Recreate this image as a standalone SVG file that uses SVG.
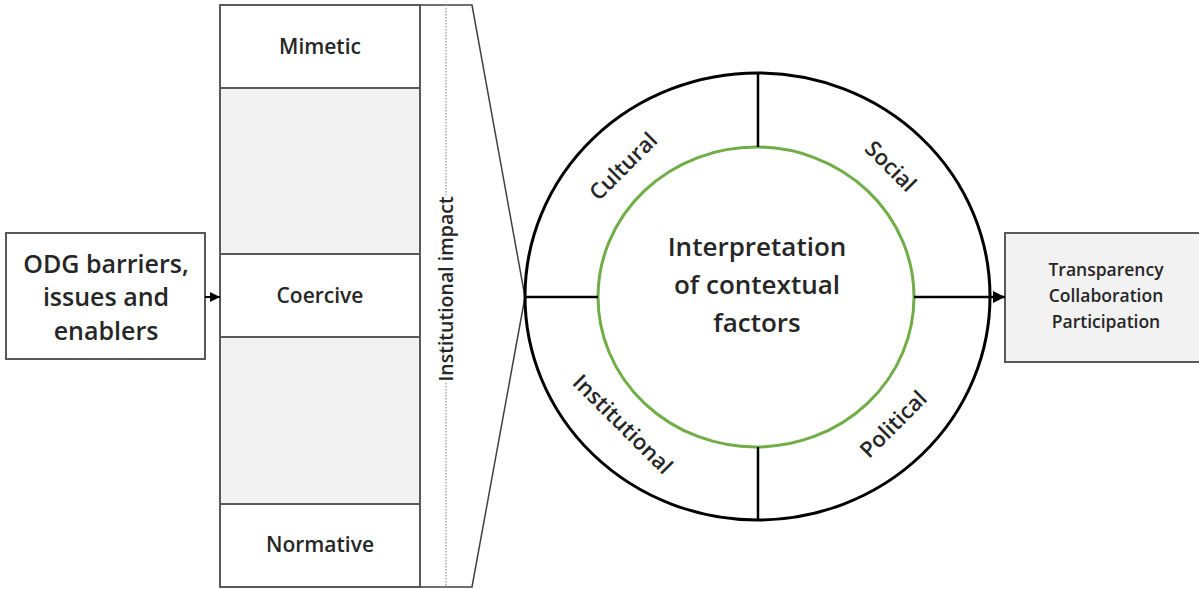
<svg xmlns="http://www.w3.org/2000/svg" width="1199" height="589" viewBox="0 0 1199 589">
<defs>
<style>
.t{font-family:"Open Sans","Liberation Sans",sans-serif;fill:#262626;text-anchor:middle;font-weight:600}
.box{stroke:#595959;stroke-width:2}
.ring{fill:none;stroke:#000;stroke-width:3}
.rad{stroke:#000;stroke-width:2.5}
</style>
<marker id="ah" viewBox="0 0 10 10" refX="10" refY="5" markerWidth="5" markerHeight="5" orient="auto" markerUnits="strokeWidth"><path d="M0,0 L10,5 L0,10 z" fill="#000"/></marker>
</defs>
<rect width="1199" height="589" fill="#fff"/>
<g id="input">
<rect x="6" y="233" width="199" height="126" fill="#fff" class="box"/>
<text class="t" font-size="25" font-weight="700" x="106" y="273">ODG barriers,</text>
<text class="t" font-size="25" font-weight="700" x="106" y="306">issues and</text>
<text class="t" font-size="25" font-weight="700" x="106" y="340">enablers</text>
</g>
<g id="column">
<rect x="220" y="5" width="200" height="582" fill="#f2f2f2" class="box"/>
<rect x="220" y="5" width="200" height="83" fill="#fff" class="box"/>
<rect x="220" y="254" width="200" height="83" fill="#fff" class="box"/>
<rect x="220" y="504" width="200" height="83" fill="#fff" class="box"/>
<text class="t" font-size="21" x="320" y="54">Mimetic</text>
<text class="t" font-size="21" x="320" y="303">Coercive</text>
<text class="t" font-size="21" x="320" y="552">Normative</text>
</g>
<g id="impact">
<path d="M420,5 L472,5 L525,297 L472,587 L420,587" fill="none" stroke="#404040" stroke-width="1.5"/>
<line x1="446" y1="5" x2="446" y2="195" stroke="#a6a6a6" stroke-width="1.5" stroke-dasharray="1.5,1.5"/>
<line x1="446" y1="383" x2="446" y2="587" stroke="#a6a6a6" stroke-width="1.5" stroke-dasharray="1.5,1.5"/>
<text class="t" font-size="19.5" transform="translate(453,289) rotate(-90)">Institutional impact</text>
</g>
<g id="wheel">
<ellipse cx="757.5" cy="296.5" rx="232.5" ry="223.5" fill="#fff" class="ring"/>
<ellipse cx="756" cy="297" rx="158" ry="150" fill="#fff" stroke="#70ad47" stroke-width="3"/>
<text class="t" font-size="22" transform="translate(623,166) rotate(-45)" dy="8">Cultural</text>
<text class="t" font-size="22" transform="translate(891,166) rotate(45)" dy="8">Social</text>
<text class="t" font-size="22" transform="translate(623,424) rotate(45)" dy="8">Institutional</text>
<text class="t" font-size="22" transform="translate(893,424) rotate(-45)" dy="8">Political</text>
<text class="t" font-size="26" font-weight="700" x="757" y="256">Interpretation</text>
<text class="t" font-size="26" font-weight="700" x="757" y="294">of contextual</text>
<text class="t" font-size="26" font-weight="700" x="757" y="332">factors</text>
</g>
<g id="output">
<rect x="1005" y="233" width="197" height="129" fill="#f2f2f2" class="box"/>
<text class="t" font-size="17.5" x="1106" y="276">Transparency</text>
<text class="t" font-size="17.5" x="1106" y="302">Collaboration</text>
<text class="t" font-size="17.5" x="1106" y="328">Participation</text>
</g>
<g id="connectors">
<line x1="205" y1="297" x2="220" y2="297" stroke="#000" stroke-width="2" marker-end="url(#ah)"/>
<line x1="758" y1="73" x2="758" y2="147" class="rad"/>
<line x1="758" y1="447" x2="758" y2="520" class="rad"/>
<line x1="525" y1="297" x2="598" y2="297" class="rad"/>
<line x1="914" y1="297" x2="1005" y2="297" class="rad" marker-end="url(#ah)"/>
</g>
</svg>
